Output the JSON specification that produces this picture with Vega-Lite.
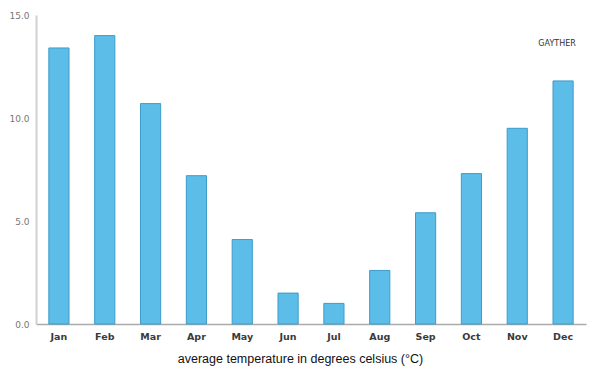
{
  "$schema": "https://vega.github.io/schema/vega-lite/v6.json",
  "width": 550,
  "height": 309,
  "autosize": "none",
  "padding": {"left": 36, "top": 15, "right": 14, "bottom": 51},
  "background": "white",
  "config": {"view": {"stroke": null}},
  "data": {
    "values": [
      {"month": "Jan", "temp": 13.4},
      {"month": "Feb", "temp": 14.0},
      {"month": "Mar", "temp": 10.7},
      {"month": "Apr", "temp": 7.2},
      {"month": "May", "temp": 4.1},
      {"month": "Jun", "temp": 1.5},
      {"month": "Jul", "temp": 1.0},
      {"month": "Aug", "temp": 2.6},
      {"month": "Sep", "temp": 5.4},
      {"month": "Oct", "temp": 7.3},
      {"month": "Nov", "temp": 9.5},
      {"month": "Dec", "temp": 11.8}
    ]
  },
  "layer": [
    {
      "mark": {"type": "bar", "fill": "#5bbde8", "stroke": "#3d9cc9", "strokeWidth": 1},
      "encoding": {
        "x": {
          "field": "month",
          "type": "nominal",
          "sort": null,
          "scale": {"paddingInner": 0.56, "paddingOuter": 0.28},
          "axis": {
            "title": "average temperature in degrees celsius (°C)",
            "titleFont": "Liberation Sans",
            "titleFontSize": 12.5,
            "titleFontWeight": "normal",
            "titleColor": "#111",
            "titleX": 264,
            "titleY": 38,
            "titleAlign": "center",
            "titleBaseline": "alphabetic",
            "labelAngle": 0,
            "labelFont": "DejaVu Sans",
            "labelFontSize": 9.5,
            "labelFontWeight": "bold",
            "labelColor": "#3a3a3a",
            "labelPadding": 7,
            "ticks": false,
            "domainColor": "#aaaaaa",
            "domainWidth": 1.5
          }
        },
        "y": {
          "field": "temp",
          "type": "quantitative",
          "scale": {"domain": [0, 15], "nice": false},
          "axis": {
            "title": null,
            "values": [0, 5, 10, 15],
            "format": ".1f",
            "grid": false,
            "ticks": false,
            "labelFont": "DejaVu Sans",
            "labelFontSize": 9,
            "labelColor": "#777",
            "labelPadding": 7,
            "domainColor": "#d0d0d0",
            "domainWidth": 2
          }
        }
      }
    },
    {
      "data": {"values": [{"month": "Dec", "temp": 13.6, "label": "GAYTHER"}]},
      "mark": {"type": "text", "font": "DejaVu Sans", "fontSize": 8, "color": "#333", "dx": -6},
      "encoding": {
        "x": {"field": "month", "type": "nominal", "sort": null},
        "y": {"field": "temp", "type": "quantitative"},
        "text": {"field": "label"}
      }
    }
  ]
}
